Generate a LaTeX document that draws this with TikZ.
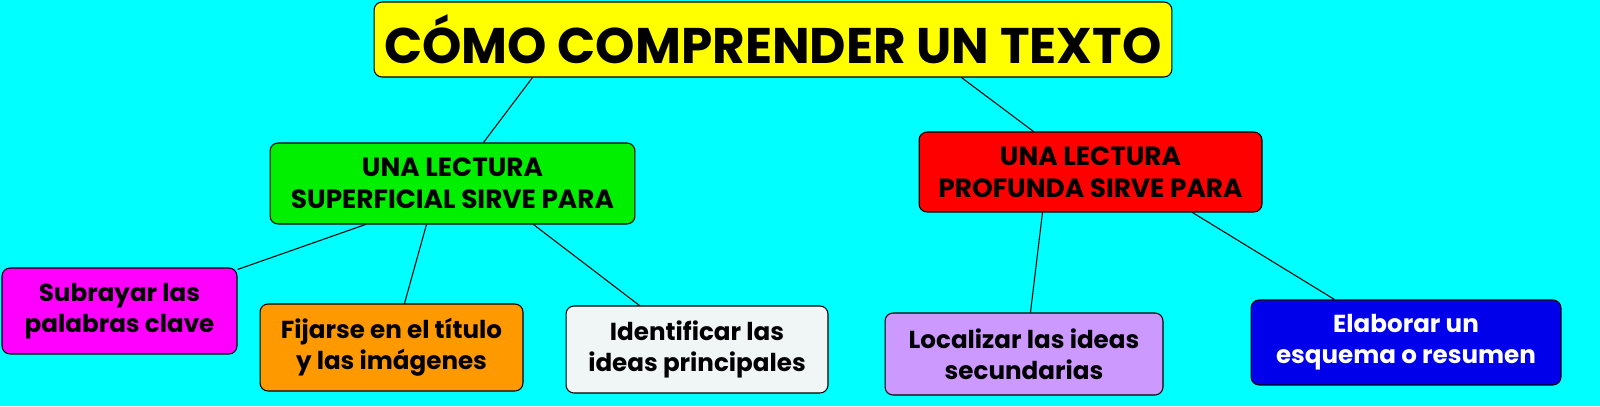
\documentclass[tikz,border=0pt]{standalone}
\usepackage{fontspec}
\setmainfont{Poppins}
\usetikzlibrary{positioning}
\definecolor{fondo}{RGB}{0,255,255}
\definecolor{amarillo}{RGB}{255,255,0}
\definecolor{verde}{RGB}{0,240,0}
\definecolor{rojo}{RGB}{255,0,0}
\definecolor{magenta}{RGB}{255,0,255}
\definecolor{naranja}{RGB}{255,153,0}
\definecolor{blanco}{RGB}{240,245,245}
\definecolor{lila}{RGB}{204,153,255}
\definecolor{azul}{RGB}{0,0,235}
\begin{document}
\begin{tikzpicture}[x=0.02cm,y=-0.02cm]
    \tikzstyle{caja}=[draw=black,line width=0.6pt,rounded corners=0.16cm,align=center,font=\bfseries\fontsize{14}{17.5}\selectfont,inner sep=0pt]
    \tikzstyle{titulo}=[caja,fill=amarillo,minimum width=15.96cm,minimum height=1.5cm,font=\bfseries\fontsize{28.5}{34}\selectfont]
    \tikzstyle{lectura}=[caja,font=\bfseries\fontsize{15}{18}\selectfont]
    \tikzstyle{hoja}=[caja]
    \tikzstyle{enlace}=[line width=0.6pt]

\fill[fondo] (0,0) rectangle (1600,406);
\useasboundingbox (0,0) rectangle (1600,406);

% Titulo
\node[titulo] (tit) at (773,39.5) {CÓMO COMPRENDER UN TEXTO};

% Dos lecturas
\node[lectura,fill=verde,minimum width=7.3cm,minimum height=1.62cm] (sup) at (452.5,183.5) {UNA LECTURA\\SUPERFICIAL SIRVE PARA};
\node[lectura,fill=rojo,minimum width=6.86cm,minimum height=1.6cm] (pro) at (1090.5,172) {UNA LECTURA\\PROFUNDA SIRVE PARA};

% Hojas
\node[hoja,fill=magenta,minimum width=4.7cm,minimum height=1.72cm] (sub) at (119.5,311) {Subrayar las\\palabras clave};
\node[hoja,fill=naranja,minimum width=5.26cm,minimum height=1.74cm] (fij) at (391.5,347.5) {Fijarse en el título\\y las imágenes};
\node[hoja,fill=blanco,minimum width=5.24cm,minimum height=1.74cm] (ide) at (697,349.5) {Identificar las\\ideas principales};
\node[hoja,fill=lila,minimum width=5.56cm,minimum height=1.64cm] (loc) at (1024,354) {Localizar las ideas\\secundarias};
\node[hoja,fill=azul,text=white,minimum width=6.2cm,minimum height=1.7cm] (ela) at (1406,342.5) {Elaborar un\\esquema o resumen};

% Enlaces
 \path[enlace] ([xshift=3.18cm]tit.south west) edge ([xshift=4.28cm]sup.north west);
 \path[enlace] ([xshift=11.76cm]tit.south west) edge ([xshift=2.3cm]pro.north west);
 \path[enlace] ([xshift=1.92cm]sup.south west) edge ([yshift=-0.04cm]sub.north east);
 \path[enlace] ([xshift=3.14cm]sup.south west) edge ([xshift=2.9cm]fij.north west);
 \path[enlace] ([xshift=5.28cm]sup.south west) edge ([xshift=1.48cm]ide.north west);
 \path[enlace] ([xshift=2.48cm]pro.south west) edge ([xshift=2.92cm]loc.north west);
 \path[enlace] ([xshift=5.48cm]pro.south west) edge ([xshift=1.68cm]ela.north west);

\end{tikzpicture}
\end{document}
